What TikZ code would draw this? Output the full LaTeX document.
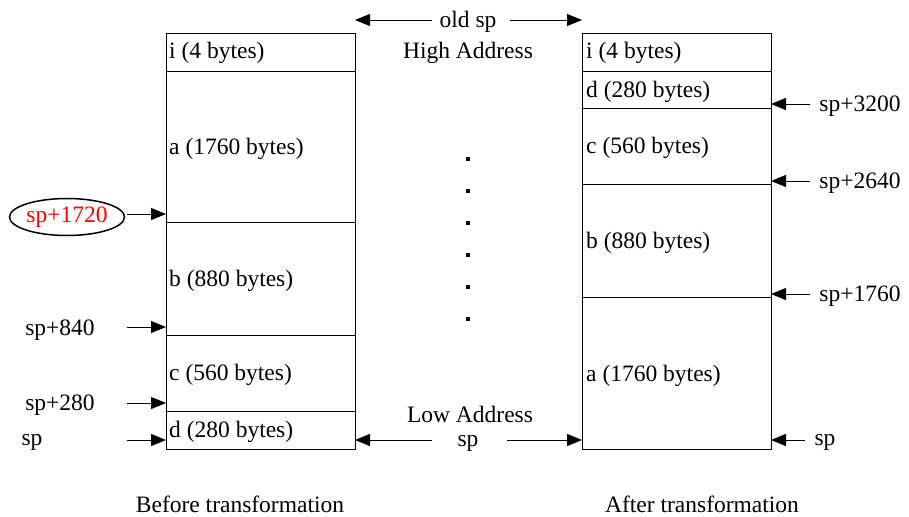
\documentclass[tikz,border=0pt]{standalone}
\usepackage{fontspec}
\setmainfont{Liberation Serif}
\usetikzlibrary{arrows.meta,shapes.geometric}
\begin{document}
\begin{tikzpicture}[x=1pt,y=-1pt,
  box/.style={draw=black,line width=0.9pt},
  cell/.style={anchor=west,inner sep=0pt,font=\fontsize{23.5}{26}\selectfont},
  lab/.style={inner sep=0pt,font=\fontsize{23.5}{26}\selectfont},
  arr/.style={-{Triangle[length=15pt,width=12pt]},line width=0.9pt},
  dot/.style={fill=black,minimum size=3.2pt,inner sep=0pt}]
\useasboundingbox (0,0) rectangle (909,516);
% left stack
\draw[box] (166,33) rectangle (355,449);
\draw[box] (166,71) -- (355,71);
\draw[box] (166,222) -- (355,222);
\draw[box] (166,335) -- (355,335);
\draw[box] (166,411) -- (355,411);
% right stack
\draw[box] (582,33) rectangle (771,449);
\draw[box] (582,71) -- (771,71);
\draw[box] (582,108) -- (771,108);
\draw[box] (582,184) -- (771,184);
\draw[box] (582,297) -- (771,297);
% cell texts left
\node[cell] (li) at (169,53) {i (4 bytes)};
\node[cell] (la) at (169,149) {a (1760 bytes)};
\node[cell] (lb) at (169,281) {b (880 bytes)};
\node[cell] (lc) at (169,375) {c (560 bytes)};
\node[cell] (ld) at (169,432) {d (280 bytes)};
% cell texts right
\node[cell] (ri) at (586,53) {i (4 bytes)};
\node[cell] (rd) at (586,92) {d (280 bytes)};
\node[cell] (rc) at (586,148) {c (560 bytes)};
\node[cell] (rb) at (586,243) {b (880 bytes)};
\node[cell] (ra) at (586,376) {a (1760 bytes)};
% coordinates on box edges
\coordinate (L1720) at (166,214);
\coordinate (L840) at (166,327);
\coordinate (L280) at (166,403);
\coordinate (L0) at (166,440);
\coordinate (R3200) at (771,104);
\coordinate (R2640) at (771,181);
\coordinate (R1760) at (771,294);
\coordinate (R0) at (771,440);
\coordinate (Ltop) at (355,20);
\coordinate (Rtop) at (582,20);
\coordinate (Lbot) at (355,440);
\coordinate (Rbot) at (582,440);
% left labels
\node[lab,text=red,draw=black,ellipse,line width=1.5pt,inner sep=0pt,minimum width=115pt,minimum height=37pt] (s1720) at (67,217) {sp+1720};
\node[lab] (s840) at (60,330) {sp+840};
\node[lab] (s280) at (60,405) {sp+280};
\node[lab] (s0) at (32,442) {sp};
\coordinate (a1720) at (127,214);
\coordinate (a840) at (127,327);
\coordinate (a280) at (127,403);
\coordinate (a0) at (127,440);
\draw[arr] (a1720) -- (L1720);
\draw[arr] (a840) -- (L840);
\draw[arr] (a280) -- (L280);
\draw[arr] (a0) -- (L0);
% right labels
\node[lab] (s3200) at (860,106) {sp+3200};
\node[lab] (s2640) at (860,183) {sp+2640};
\node[lab] (s1760) at (860,296) {sp+1760};
\node[lab] (sr0) at (825,442) {sp};
\coordinate (b3200) at (810,104);
\coordinate (b2640) at (810,181);
\coordinate (b1760) at (810,294);
\coordinate (b0) at (805,440);
\draw[arr] (b3200) -- (R3200);
\draw[arr] (b2640) -- (R2640);
\draw[arr] (b1760) -- (R1760);
\draw[arr] (b0) -- (R0);
% middle
\node[lab] (oldsp) at (468,22) {old sp};
\node[lab] (high) at (468,53) {High Address};
\node[lab] (low) at (470,414) {Low Address};
\node[lab] (msp) at (468,443) {sp};
\coordinate (t1) at (432,20);
\coordinate (t2) at (510,20);
\coordinate (m1) at (432,440);
\coordinate (m2) at (507,440);
\draw[arr] (t1) -- (Ltop);
\draw[arr] (t2) -- (Rtop);
\draw[arr] (m1) -- (Lbot);
\draw[arr] (m2) -- (Rbot);
\foreach \yy [count=\k] in {159,191,223,255,287,319}
  \node[dot] (dot\k) at (468,\yy) {};
% captions
\node[lab] (capL) at (240,504) {Before transformation};
\node[lab] (capR) at (702,504) {After transformation};
\end{tikzpicture}
\end{document}
